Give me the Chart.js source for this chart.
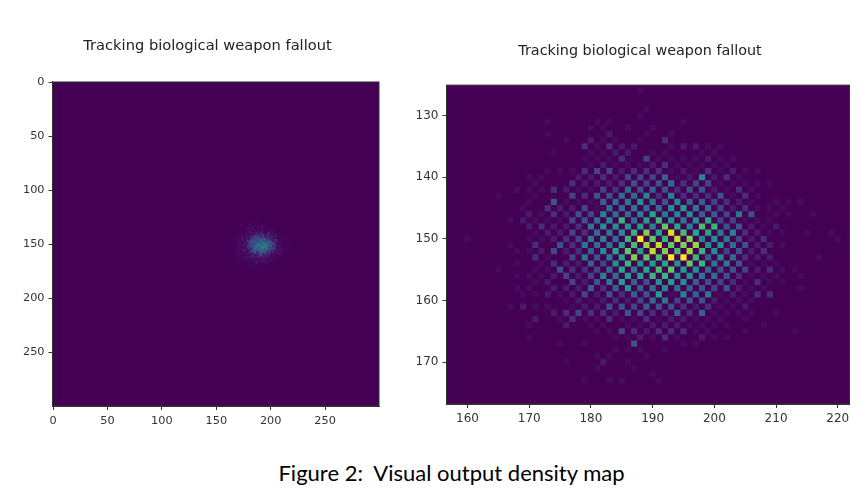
<!DOCTYPE html>
<html>
<head>
<meta charset="utf-8">
<title>Density map</title>
<script src="https://cdn.jsdelivr.net/npm/chart.js@4"></script>
<style>
  html, body { margin: 0; padding: 0; background: #fff; width: 867px; height: 504px; overflow: hidden; }
  .panel { position: absolute; top: 0; height: 440px; }
  canvas { filter: blur(0.35px); }
  #caption { position: absolute; left: 0; width: 903px; top: 459px; text-align: center;
             font-family: Lato, sans-serif; font-size: 22px; color: #000; }
</style>
</head>
<body>
<div class="panel" style="left:0;width:415px"><canvas id="chartFull"></canvas></div>
<div class="panel" style="left:410px;width:460px"><canvas id="chartZoom"></canvas></div>
<div id="caption">Figure 2:&nbsp; Visual output density map</div>

<script>
const chartTitle = 'Tracking biological weapon fallout';
const fullTicks = [0, 50, 100, 150, 200, 250];
const zoomXTicks = [160, 170, 180, 190, 200, 210, 220];
const zoomYTicks = [130, 140, 150, 160, 170];

// counts: only every second cell is ever hit,
// so each row lists x = start, start+2, start+4 ...
const rowY = [126, 129, 130, 131, 132, 133, 134, 135, 136, 137, 138, 139, 140, 141, 142, 143, 144, 145, 146, 147, 148, 149, 150, 151, 152, 153, 154, 155, 156, 157, 158, 159, 160, 161, 162, 163, 164, 165, 166, 167, 168, 169, 170, 171, 172, 173];
const rowStart = [188, 189, 188, 173, 180, 173, 176, 179, 174, 179, 180, 173, 170, 171, 168, 165, 170, 169, 170, 167, 170, 171, 160, 167, 168, 171, 168, 165, 168, 171, 168, 169, 176, 167, 174, 171, 170, 181, 170, 175, 184, 181, 176, 181, 190, 179];
const rowCounts = [
  [1],
  [1],
  [1],
  [1, 0, 0, 0, 1, 1, 0, 0, 0, 0, 0, 1],
  [1, 1, 0, 1, 0, 1],
  [1, 0, 0, 0, 0, 2, 0, 0, 1, 0, 1],
  [1, 0, 2, 1, 1, 0, 1, 0, 3],
  [3, 1, 3, 2, 2, 0, 0, 1, 2, 2, 1, 1],
  [1, 0, 0, 1, 1, 2, 2, 0, 1, 1, 0, 0, 1, 1],
  [1, 1, 1, 3, 0, 4, 1, 1, 1, 1, 2, 1, 1],
  [1, 2, 1, 1, 1, 2, 3, 1, 1, 1, 1, 1],
  [1, 1, 1, 3, 4, 4, 2, 3, 3, 3, 1, 2, 1, 3, 1, 2, 1, 1],
  [1, 1, 0, 0, 2, 2, 3, 2, 4, 4, 4, 6, 1, 2, 9, 2, 3, 1],
  [1, 0, 0, 3, 2, 2, 2, 3, 5, 4, 5, 7, 3, 4, 4, 1, 1, 1, 1, 1],
  [1, 1, 1, 3, 2, 1, 1, 4, 3, 7, 5, 6, 5, 3, 5, 5, 2, 1, 3, 1],
  [1, 0, 0, 1, 0, 0, 4, 3, 5, 5, 7, 7, 9, 3, 9, 3, 3, 3, 5, 1, 3, 1],
  [1, 0, 5, 1, 1, 1, 6, 7, 8, 10, 8, 5, 9, 6, 6, 4, 3, 2, 1, 0, 1, 1, 1],
  [1, 0, 3, 2, 2, 4, 1, 7, 7, 8, 7, 7, 10, 11, 8, 7, 4, 2, 3, 1, 1, 1],
  [2, 1, 3, 2, 5, 4, 9, 7, 7, 9, 12, 8, 9, 10, 6, 6, 4, 8, 5, 0, 1, 1, 0, 1],
  [1, 2, 1, 1, 1, 4, 5, 7, 9, 13, 7, 11, 13, 10, 8, 10, 12, 4, 4, 1, 1, 1],
  [2, 3, 2, 2, 3, 8, 10, 10, 10, 11, 9, 15, 12, 9, 14, 13, 5, 5, 2, 1, 2],
  [1, 2, 2, 4, 3, 7, 8, 10, 13, 16, 12, 19, 14, 12, 12, 8, 9, 3, 2, 1, 1, 0, 1, 0, 1],
  [1, 0, 0, 0, 0, 1, 1, 2, 3, 4, 8, 9, 7, 13, 20, 15, 13, 18, 16, 9, 10, 8, 4, 2, 3, 0, 0, 0, 0, 0, 1],
  [1, 0, 3, 0, 5, 3, 8, 7, 8, 11, 14, 17, 18, 15, 16, 17, 10, 10, 7, 5, 2, 2, 1],
  [1, 1, 2, 4, 2, 3, 6, 10, 12, 15, 11, 18, 16, 14, 17, 13, 10, 4, 5, 2, 3],
  [3, 1, 0, 4, 8, 5, 8, 11, 16, 15, 14, 20, 20, 13, 6, 9, 7, 3, 2, 2, 0, 0, 0, 1],
  [1, 0, 1, 3, 2, 2, 6, 4, 10, 13, 10, 11, 12, 10, 15, 13, 8, 8, 5, 1, 1, 1],
  [1, 0, 0, 1, 1, 5, 3, 3, 4, 7, 12, 8, 12, 14, 15, 11, 10, 7, 5, 5, 4, 2, 3, 1, 1],
  [1, 1, 1, 2, 4, 2, 4, 9, 7, 11, 11, 13, 13, 10, 10, 8, 7, 5, 3, 1, 1, 1, 0, 1],
  [1, 2, 0, 4, 2, 5, 8, 11, 6, 5, 10, 11, 10, 6, 5, 4, 3, 1, 3, 1, 1],
  [1, 1, 0, 2, 2, 2, 6, 3, 6, 10, 6, 7, 9, 7, 6, 5, 4, 5, 2, 1, 1, 0, 0, 1],
  [1, 1, 2, 1, 2, 4, 2, 5, 3, 6, 5, 11, 1, 9, 6, 8, 1, 2, 1, 3, 3],
  [1, 2, 1, 2, 3, 2, 4, 7, 8, 4, 5, 5, 2, 1, 1, 1],
  [1, 2, 1, 1, 0, 1, 2, 2, 5, 5, 4, 6, 5, 5, 3, 2, 3, 1, 1, 2],
  [2, 3, 4, 3, 3, 2, 5, 4, 3, 3, 6, 3, 6, 1, 1, 1, 1, 0, 1],
  [2, 0, 1, 3, 1, 1, 3, 1, 1, 3, 1, 2, 2, 1, 1, 1, 0, 1],
  [1, 0, 0, 2, 0, 1, 1, 0, 1, 1, 2, 2, 2, 1, 1, 1, 1, 0, 0, 1],
  [1, 1, 4, 3, 2, 3, 3, 3, 1, 1, 0, 0, 1, 0, 0, 0, 1],
  [1, 0, 0, 0, 0, 0, 0, 1, 1, 2, 1, 3, 1, 0, 2, 1, 1],
  [1, 0, 1, 0, 0, 0, 5, 0, 0, 0, 1, 1],
  [1, 1, 1, 0, 1],
  [1, 1, 0, 0, 1],
  [1, 0, 0, 2, 0, 1],
  [1, 0, 0, 1],
  [1],
  [1, 0, 1, 1, 0, 0, 1]
];

const maxCount = 20;
// viridis, one stop for every count from 0 to maxCount (low end kept faint like the source)
const viridis = ['#440154', '#450b5d', '#471a6c', '#472d7b', '#414487', '#3b528b', '#355f8d', '#2f6c8e', '#2a788e', '#25848e', '#21918c', '#1f9e89', '#22a884', '#35b779', '#43bf71', '#5ec962', '#7ad151', '#95d840', '#bddf26', '#dfe318', '#fde725'];

const cells = [];
rowY.forEach((y, r) => {
  rowCounts[r].forEach((count, i) => {
    if (count > 0) cells.push({ x: rowStart[r] + i * 2, y: y, count: count });
  });
});

// fill the image background and draw the frame on all four sides
const imageFrame = {
  id: 'imageFrame',
  beforeDatasetsDraw(chart) {
    const a = chart.chartArea;
    chart.ctx.fillStyle = viridis[0];
    chart.ctx.fillRect(a.left, a.top, a.width, a.height);
  },
  afterDraw(chart) {
    const a = chart.chartArea;
    chart.ctx.strokeStyle = '#333';
    chart.ctx.lineWidth = 1;
    chart.ctx.strokeRect(a.left, a.top, a.width, a.height);
  }
};

function dibujarPanel(id, cfg) {
  const cellRadius = ctx => {
    const xs = ctx.chart.scales.x;
    return cfg.cellSize * Math.abs(xs.getPixelForValue(1) - xs.getPixelForValue(0)) / 2 / Math.SQRT1_2;
  };
  const axisBase = ticks => ({
    type: 'linear',
    grid: { drawOnChartArea: false, drawTicks: true, tickLength: 4, color: '#333' },
    border: { color: '#333' },
    ticks: { color: '#333', font: { family: 'DejaVu Sans', size: cfg.tickSize }, padding: 4, maxRotation: 0, autoSkip: false },
    afterBuildTicks: axis => { axis.ticks = ticks.map(v => ({ value: v })); }
  });
  return new Chart(document.getElementById(id), {
    type: 'scatter',
    data: {
      datasets: [{
        data: cells,
        pointStyle: 'rect',
        borderWidth: 0,
        pointRadius: cellRadius,
        pointHoverRadius: cellRadius,
        backgroundColor: ctx => viridis[Math.round(Math.min(ctx.raw.count, maxCount) * cfg.colourGain)]
      }]
    },
    options: {
      responsive: false,
      animation: false,
      plugins: {
        legend: { display: false },
        tooltip: { enabled: false },
        title: {
          display: true,
          text: chartTitle,
          color: '#222',
          font: { family: 'DejaVu Sans', size: cfg.titleSize, weight: 'normal', lineHeight: 1.2 },
          padding: { top: cfg.titleTop, bottom: cfg.titleBottom }
        }
      },
      scales: {
        x: Object.assign(axisBase(cfg.xTicks), {
          min: cfg.xMin, max: cfg.xMax,
          afterFit: axis => { axis.height = cfg.axisHeight; }
        }),
        y: Object.assign(axisBase(cfg.yTicks), {
          reverse: true,
          min: cfg.yMin, max: cfg.yMax,
          afterFit: axis => { axis.width = cfg.axisWidth; }
        }),
        // empty right axis: only reserves the margin so the title centres as in the original
        margin: {
          type: 'linear', position: 'right', min: 0, max: 1,
          grid: { display: false }, border: { display: false }, ticks: { display: false },
          afterFit: axis => { axis.width = cfg.rightWidth; }
        }
      }
    },
    plugins: [imageFrame]
  });
}

function prepararCanvas(id, w, h) {
  const c = document.getElementById(id);
  c.width = w; c.height = h;
  c.style.width = w + 'px'; c.style.height = h + 'px';
}

prepararCanvas('chartFull', 415, 440);
prepararCanvas('chartZoom', 460, 440);

dibujarPanel('chartFull', {
  xTicks: fullTicks, yTicks: fullTicks,
  xMin: -0.5, xMax: 299.5, yMin: -0.5, yMax: 299.5,
  axisWidth: 52.5, rightWidth: 36, axisHeight: 34,
  titleSize: 14.65, tickSize: 11.3, titleTop: 37, titleBottom: 27.4,
  cellSize: 1.6, colourGain: 0.55
});
dibujarPanel('chartZoom', {
  xTicks: zoomXTicks, yTicks: zoomYTicks,
  xMin: 156.6, xMax: 221.9, yMin: 125.05, yMax: 176.8,
  axisWidth: 36.5, rightWidth: 20.5, axisHeight: 36,
  titleSize: 14.35, tickSize: 12, titleTop: 43, titleBottom: 24.9,
  cellSize: 1, colourGain: 1
});
</script>
</body>
</html>
